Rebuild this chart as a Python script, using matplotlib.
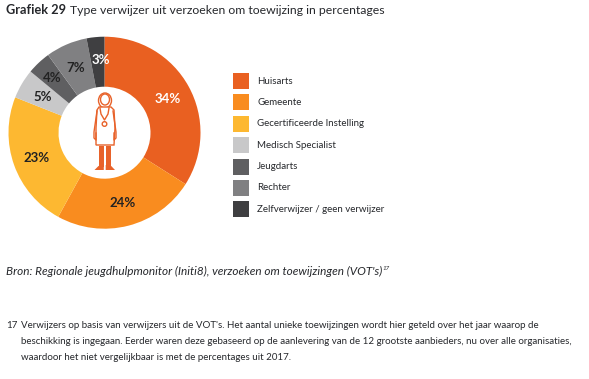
"""
Donut chart: type verwijzer uit verzoeken om toewijzing (Grafiek 29).
"""

import matplotlib
matplotlib.use('Agg')
import matplotlib.pyplot as plt
from matplotlib.patches import Ellipse, Polygon, Rectangle, Circle

WIDTH, HEIGHT = 589, 379

categories = ['Huisarts', 'Gemeente', 'Gecertificeerde Instelling', 'Medisch Specialist',
              'Jeugdarts', 'Rechter', 'Zelfverwijzer / geen verwijzer']
percentages = [34, 24, 23, 5, 4, 7, 3]
colors = ['#E96021', '#F98C1F', '#FDB831', '#C8C8C9', '#5F5F61', '#808082', '#3F3F41']
label_colors = ['white', '#222222', '#222222', '#222222', '#222222', '#222222', 'white']

source_text = "Bron: Regionale jeugdhulpmonitor (Initi8), verzoeken om toewijzingen (VOT's)"
footnote_lines = [
    "Verwijzers op basis van verwijzers uit de VOT's. Het aantal unieke toewijzingen wordt hier geteld over het jaar waarop de",
    "beschikking is ingegaan. Eerder waren deze gebaseerd op de aanlevering van de 12 grootste aanbieders, nu over alle organisaties,",
    "waardoor het niet vergelijkbaar is met de percentages uit 2017.",
]

TEXT = '#26282C'
ICON = '#E8622A'
FONT = 'Lato'


def py(y):
    # Pixel rows in the picture count from the top
    return HEIGHT - y


def draw_icon(ax):
    lw = 1.0
    # Hood and head
    ax.add_patch(Ellipse((105, py(100.5)), 13, 15, fc='white', ec=ICON, lw=lw))
    ax.add_patch(Ellipse((105, py(99.5)), 9, 11, fc='white', ec=ICON, lw=lw))
    # Coat
    coat = [(99, 107), (111, 107), (114, 110), (115, 128), (114, 145), (96, 145), (96, 128), (97, 110)]
    ax.add_patch(Polygon([(x, py(y)) for x, y in coat], fc='white', ec=ICON, lw=lw))
    # Arms
    for x0, x1, x2 in [(97, 94, 96), (113, 116, 114)]:
        ax.plot([x0, x1, x1, x2, x2], [py(111), py(132), py(138), py(140), py(133)], color=ICON, lw=lw)
    # Stethoscope
    ax.plot([100, 101, 104.5, 108, 109], [py(108), py(114), py(120), py(114), py(108)], color=ICON, lw=lw)
    ax.add_patch(Circle((104.5, py(124)), 2.3, fc='white', ec=ICON, lw=lw))
    # Legs and feet
    ax.add_patch(Rectangle((98.5, py(167)), 5.3, 21, fc=ICON, ec='none'))
    ax.add_patch(Rectangle((105.7, py(167)), 5.5, 21, fc=ICON, ec='none'))
    ax.add_patch(Polygon([(94.5, py(170)), (103.8, py(170)), (103.8, py(165)), (98.5, py(166))], fc=ICON, ec='none'))
    ax.add_patch(Polygon([(105.7, py(170)), (115, py(170)), (111.2, py(166)), (105.7, py(165))], fc=ICON, ec='none'))


def main():
    plt.rcParams['font.family'] = [FONT, 'DejaVu Sans']

    fig = plt.figure(figsize=(WIDTH / 100, HEIGHT / 100), dpi=100, facecolor='white')
    ax = fig.add_axes([0, 0, 1, 1])

    wedges, _, autotexts = ax.pie(
        percentages,
        colors=colors,
        startangle=90,
        counterclock=False,
        center=(104.5, py(132.7)),
        radius=96,
        wedgeprops={'width': 50, 'linewidth': 0},
        autopct='%d%%',
        pctdistance=0.75,
        textprops={'fontsize': 9.5, 'fontweight': 'bold'},
    )
    for text, color in zip(autotexts, label_colors):
        text.set_color(color)
        x, y = text.get_position()
        text.set_position((x, y - 1))

    # The two small dark slices carry their labels a little off centre
    x, y = autotexts[4].get_position()
    autotexts[4].set_position((x - 3, y + 3))
    x, y = autotexts[6].get_position()
    autotexts[6].set_position((x + 3, y + 2))

    ax.set_xlim(0, WIDTH)
    ax.set_ylim(0, HEIGHT)
    ax.axis('off')

    draw_icon(ax)

    # Title
    ax.text(6, py(10), 'Grafiek 29', fontsize=9.2, fontweight='bold', color=TEXT, va='center')
    ax.text(70.5, py(10), 'Type verwijzer uit verzoeken om toewijzing in percentages',
            fontsize=8.8, color=TEXT, va='center')

    # Legend
    for i, (name, color) in enumerate(zip(categories, colors)):
        top = 73 + i * 21.4
        ax.add_patch(Rectangle((233, py(top + 16)), 16, 16, fc=color, ec='none'))
        ax.text(257, py(top + 8), name, fontsize=7.0, color=TEXT, va='center')

    # Source
    ax.text(6, py(271), source_text, fontsize=8.45, style='italic', color=TEXT, va='center')
    ax.text(382.5, py(268.5), '17', fontsize=4.5, style='italic', color=TEXT, va='center')

    # Footnote
    ax.text(6, py(325), '17', fontsize=7.0, color=TEXT, va='center')
    for i, line in enumerate(footnote_lines):
        ax.text(21, py(325 + i * 16.5), line, fontsize=7.03, color=TEXT, va='center')

    fig.savefig('out.png', dpi=100)
    plt.close(fig)


if __name__ == '__main__':
    main()
